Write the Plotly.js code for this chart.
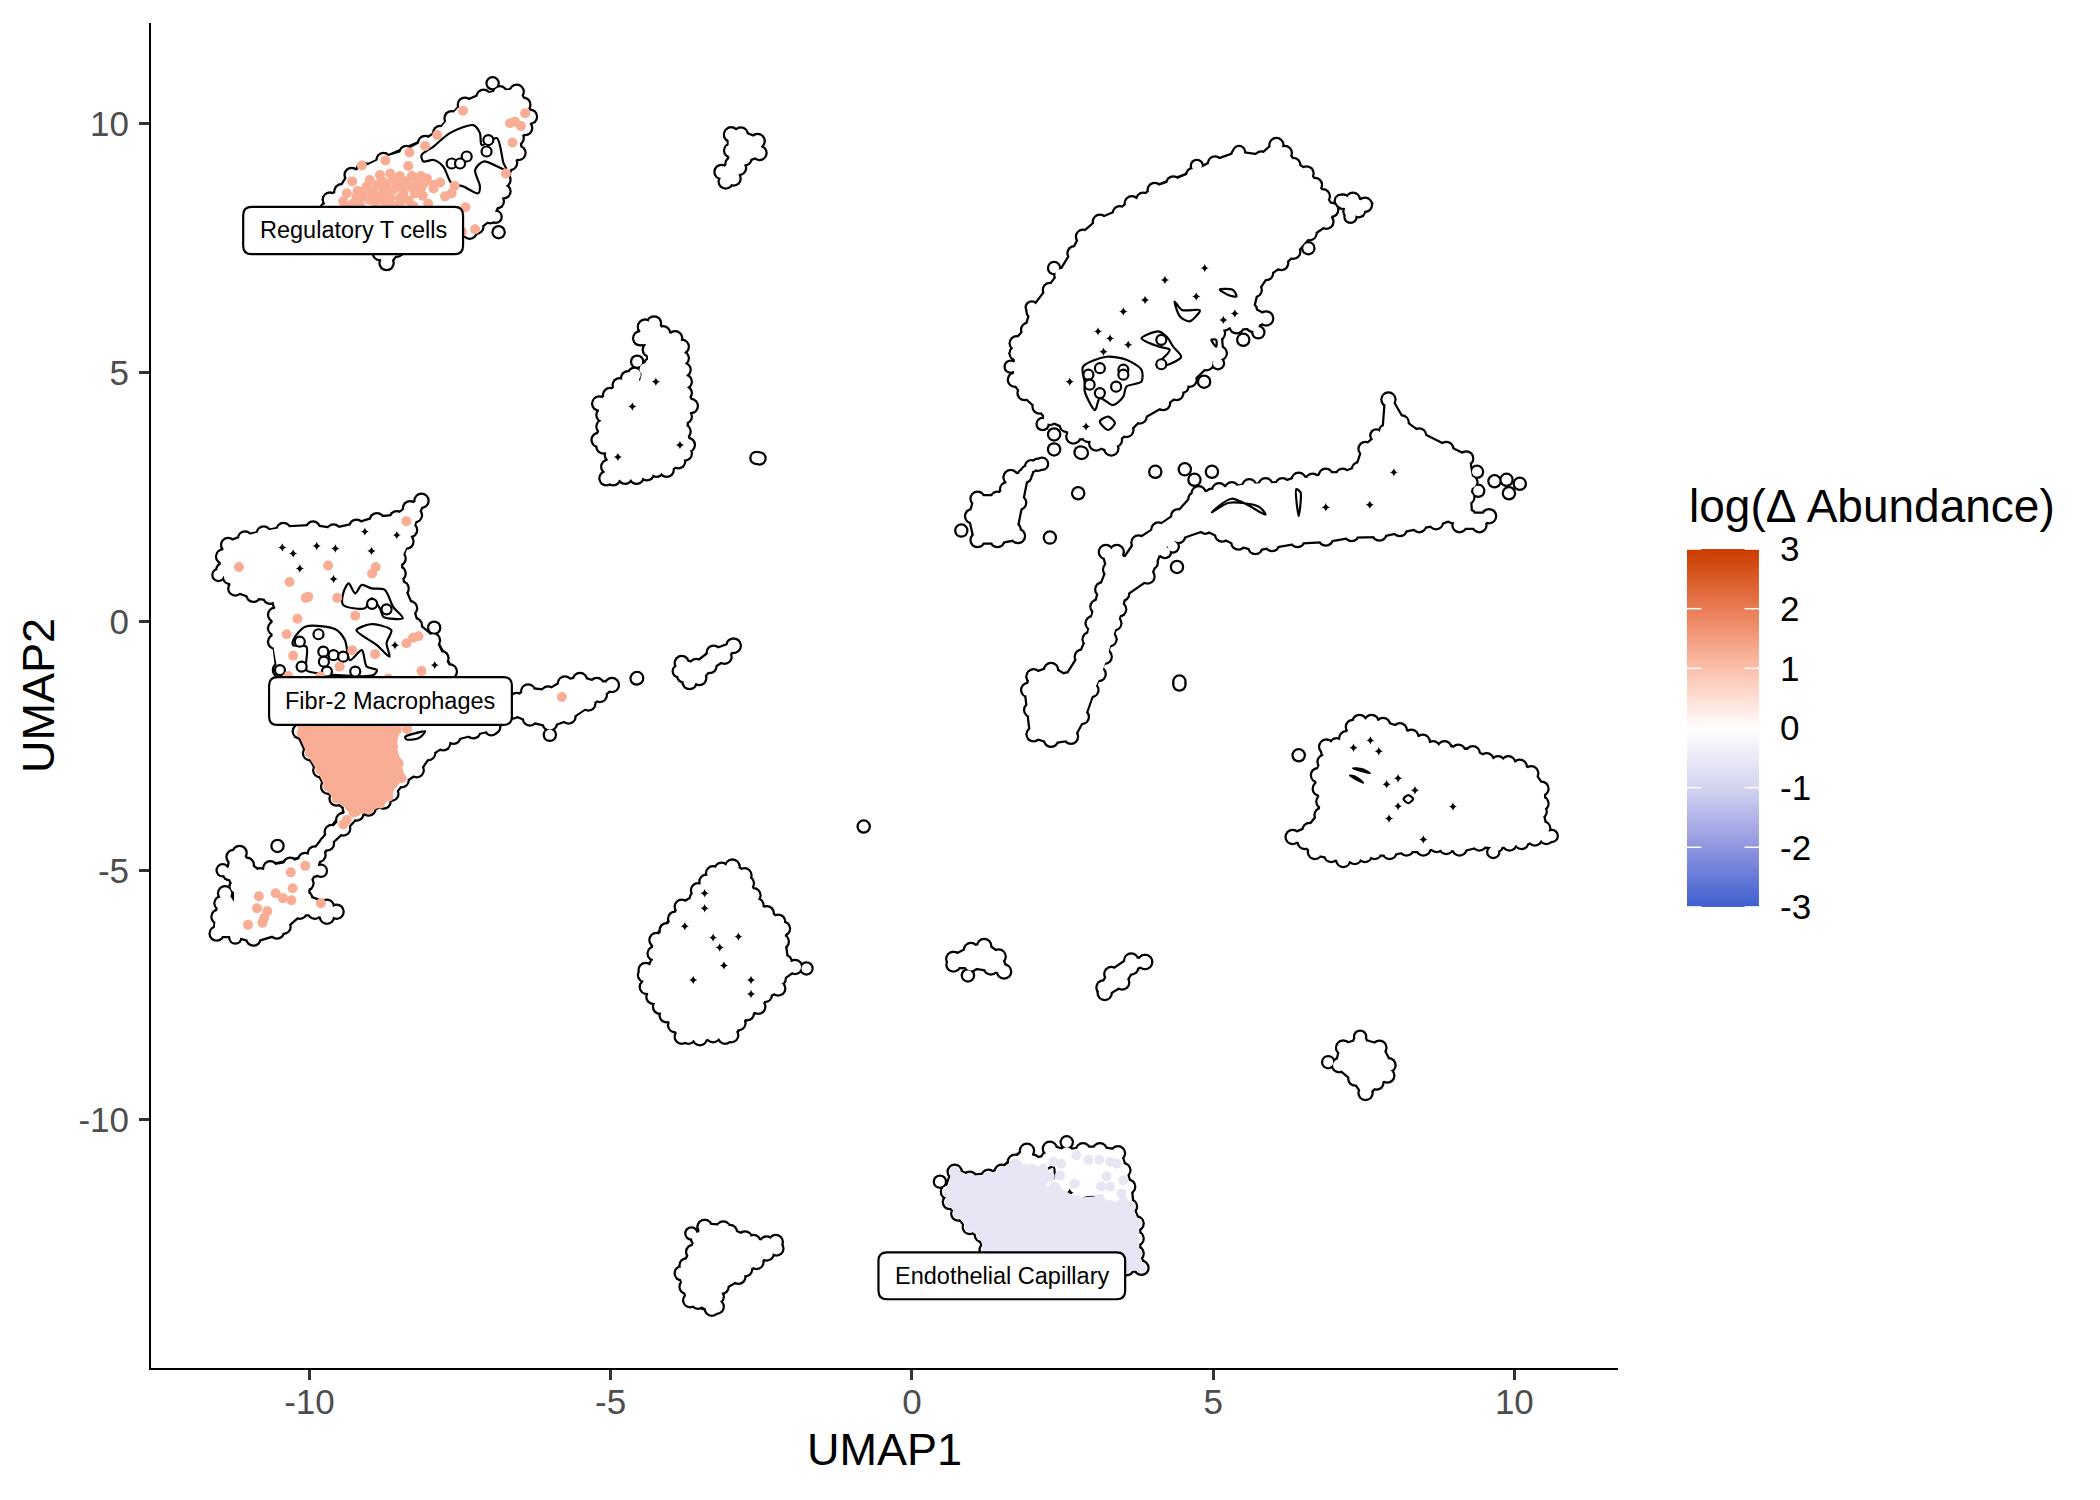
<!DOCTYPE html>
<html>
<head>
<meta charset="utf-8">
<script src="https://cdn.plot.ly/plotly-3.0.1.min.js"></script>
<style>html,body{margin:0;background:#fff}</style>
</head>
<body>
<div id="plot" style="width:2100px;height:1500px"></div>
<script>
// outlines of the cell clouds, in UMAP units
const tregOutline = [[-9.66,8.47],[-9.47,8.64],[-9.30,8.97],[-9.10,9.07],[-8.77,9.27],[-8.39,9.41],[-8.08,9.61],[-7.83,9.81],[-7.64,10.11],[-7.42,10.38],[-7.11,10.54],[-6.84,10.61],[-6.56,10.64],[-6.45,10.38],[-6.34,10.14],[-6.42,9.91],[-6.56,9.71],[-6.53,9.41],[-6.67,9.21],[-6.78,8.87],[-6.78,8.64],[-6.89,8.44],[-7.0,8.14],[-7.23,7.93],[-7.34,7.83],[-7.67,7.73],[-8.55,7.47],[-8.72,7.2],[-8.83,7.4],[-9.55,7.73],[-9.71,8.27]];
const myeloidOutline = [[-11.43,1.31],[-11.35,1.54],[-11.07,1.67],[-10.76,1.77],[-10.43,1.84],[-9.94,1.87],[-9.60,1.81],[-9.22,1.91],[-8.88,2.04],[-8.55,2.08],[-8.33,2.28],[-8.14,2.43],[-8.25,2.14],[-8.33,1.84],[-8.39,1.61],[-8.52,1.27],[-8.52,0.97],[-8.47,0.67],[-8.33,0.27],[-8.25,-0.07],[-7.95,-0.37],[-7.81,-0.73],[-7.67,-1.0],[-7.64,-1.3],[-6.56,-1.57],[-6.37,-1.40],[-6.04,-1.44],[-5.76,-1.24],[-5.51,-1.17],[-5.23,-1.27],[-4.98,-1.27],[-5.18,-1.47],[-5.37,-1.64],[-5.70,-1.90],[-6.01,-2.04],[-6.34,-1.94],[-6.62,-1.80],[-6.95,-2.11],[-7.28,-2.2],[-7.61,-2.31],[-7.78,-2.44],[-8.03,-2.64],[-8.22,-2.98],[-8.47,-3.18],[-8.64,-3.45],[-8.77,-3.61],[-9.02,-3.75],[-9.22,-3.85],[-9.44,-4.15],[-9.71,-4.45],[-9.85,-4.68],[-9.93,-4.98],[-10.05,-5.25],[-10.07,-5.55],[-9.71,-5.72],[-9.55,-5.82],[-9.71,-5.92],[-9.91,-5.82],[-10.16,-5.82],[-10.43,-6.12],[-10.54,-6.22],[-10.93,-6.36],[-11.23,-6.26],[-11.54,-6.26],[-11.51,-5.92],[-11.46,-5.65],[-11.40,-5.45],[-11.21,-5.79],[-11.21,-5.32],[-11.32,-5.05],[-11.26,-4.72],[-11.16,-4.64],[-11.04,-4.88],[-10.82,-5.09],[-10.65,-4.95],[-10.32,-4.88],[-10.07,-4.78],[-9.91,-4.65],[-9.63,-4.22],[-9.44,-3.98],[-9.33,-3.75],[-9.55,-3.55],[-9.69,-3.31],[-9.82,-2.98],[-9.99,-2.64],[-10.16,-2.2],[-10.2,-1.9],[-10.49,-0.97],[-10.57,-0.4],[-10.57,-0.13],[-10.57,0.14],[-10.49,0.37],[-10.65,0.5],[-10.93,0.54],[-11.23,0.67],[-11.32,0.9],[-11.43,1.04]];
const topBlobOutline = [[-3.0,9.78],[-2.84,9.78],[-2.56,9.65],[-2.53,9.41],[-2.78,9.30],[-2.87,9.11],[-2.96,8.90],[-3.09,8.84],[-3.16,9.03],[-2.98,9.19],[-3.0,9.46]];
const upperMidOutline = [[-4.43,5.92],[-4.28,5.99],[-4.13,5.79],[-3.93,5.69],[-3.82,5.52],[-3.82,5.29],[-3.79,5.06],[-3.77,4.82],[-3.77,4.59],[-3.67,4.33],[-3.77,4.12],[-3.79,3.82],[-3.72,3.55],[-3.77,3.38],[-3.88,3.22],[-4.07,3.05],[-4.24,3.05],[-4.40,2.98],[-4.57,2.91],[-4.76,2.91],[-4.96,2.88],[-5.07,2.88],[-5.04,3.11],[-4.98,3.35],[-5.12,3.52],[-5.20,3.65],[-5.12,3.92],[-5.12,4.15],[-5.19,4.38],[-5.01,4.55],[-4.85,4.75],[-4.71,4.89],[-4.60,4.96],[-4.51,4.65],[-4.42,5.07],[-4.33,5.16],[-4.35,5.46],[-4.33,5.62],[-4.46,5.69],[-4.51,5.69]];
const slimOutline = [[-2.96,-0.48],[-3.11,-0.70],[-3.36,-0.89],[-3.53,-1.13],[-3.69,-1.21],[-3.78,-1.08],[-3.82,-0.83],[-3.58,-0.89],[-3.29,-0.62]];
const lowerMidOutline = [[-2.98,-4.92],[-2.78,-5.09],[-2.74,-5.25],[-2.63,-5.49],[-2.58,-5.69],[-2.41,-5.85],[-2.22,-6.02],[-2.14,-6.16],[-2.16,-6.42],[-2.11,-6.83],[-1.94,-6.93],[-2.21,-7.16],[-2.22,-7.36],[-2.44,-7.49],[-2.55,-7.73],[-2.74,-7.86],[-2.88,-8.06],[-3.0,-8.30],[-3.10,-8.33],[-3.30,-8.30],[-3.52,-8.36],[-3.71,-8.33],[-3.82,-8.33],[-3.93,-8.10],[-4.07,-7.90],[-4.18,-7.73],[-4.29,-7.53],[-4.40,-7.33],[-4.43,-7.09],[-4.42,-6.99],[-4.24,-6.89],[-4.27,-6.66],[-4.24,-6.39],[-4.07,-6.19],[-3.93,-5.96],[-3.82,-5.72],[-3.57,-5.55],[-3.55,-5.39],[-3.41,-5.22],[-3.30,-5.05],[-3.16,-4.98]];
const bottomLeftOutline = [[-3.44,-12.15],[-3.13,-12.18],[-3.02,-12.25],[-2.77,-12.38],[-2.63,-12.45],[-2.41,-12.48],[-2.26,-12.45],[-2.25,-12.58],[-2.41,-12.68],[-2.58,-12.85],[-2.77,-13.0],[-2.88,-13.15],[-3.16,-13.35],[-3.24,-13.55],[-3.24,-13.75],[-3.32,-13.79],[-3.55,-13.65],[-3.68,-13.62],[-3.74,-13.35],[-3.82,-13.08],[-3.74,-12.92],[-3.63,-12.65],[-3.55,-12.38]];
const smallAOutline = [[0.69,-6.77],[0.98,-6.59],[1.2,-6.51],[1.44,-6.72],[1.53,-7.02],[1.31,-6.94],[0.98,-6.88],[0.69,-6.88]];
const smallBOutline = [[3.87,-6.83],[3.64,-6.94],[3.49,-7.24],[3.2,-7.45],[3.18,-7.34],[3.31,-7.07],[3.64,-6.8]];
const smallCOutline = [[7.16,-8.55],[7.44,-8.44],[7.76,-8.55],[7.91,-8.9],[7.89,-9.11],[7.71,-9.25],[7.53,-9.46],[7.36,-9.17],[7.09,-8.9]];
const rightOutline = [[6.88,-2.51],[7.05,-2.48],[7.21,-2.34],[7.32,-2.11],[7.43,-2.01],[7.63,-2.01],[7.82,-2.07],[8.10,-2.18],[8.29,-2.31],[8.48,-2.41],[8.65,-2.54],[8.84,-2.54],[9.07,-2.61],[9.31,-2.64],[9.54,-2.78],[9.73,-2.84],[9.90,-2.84],[10.09,-2.91],[10.28,-3.04],[10.45,-3.35],[10.45,-3.65],[10.42,-3.81],[10.48,-4.15],[10.53,-4.32],[10.34,-4.35],[10.12,-4.42],[9.92,-4.45],[9.70,-4.48],[9.42,-4.45],[9.09,-4.55],[8.87,-4.52],[8.71,-4.48],[8.49,-4.55],[8.21,-4.55],[7.93,-4.62],[7.68,-4.62],[7.52,-4.68],[7.35,-4.72],[7.16,-4.78],[6.96,-4.68],[6.69,-4.62],[6.52,-4.42],[6.32,-4.32],[6.60,-4.18],[6.80,-3.88],[6.83,-3.61],[6.77,-3.35],[6.74,-3.08],[6.85,-2.81],[6.91,-2.61]];
const endothelialOutline = [[0.60,-11.44],[0.71,-11.04],[0.96,-11.18],[1.27,-11.14],[1.49,-11.04],[1.71,-10.84],[1.91,-10.62],[2.01,-10.84],[2.26,-10.78],[2.29,-10.58],[2.57,-10.67],[2.84,-10.61],[3.12,-10.61],[3.42,-10.67],[3.51,-11.01],[3.59,-11.34],[3.62,-11.74],[3.73,-12.08],[3.73,-12.38],[3.73,-12.68],[3.81,-12.97],[3.56,-12.98],[3.23,-13.2],[1.57,-13.0],[1.24,-12.61],[1.16,-12.31],[0.96,-12.15],[0.77,-11.88],[0.63,-11.65]];
const bigOutline = [[1.74,5.39],[1.74,5.59],[1.93,5.86],[2.02,6.23],[2.29,6.66],[2.48,6.96],[2.70,7.40],[2.84,7.73],[3.12,8.03],[3.45,8.2],[3.65,8.40],[3.84,8.47],[4.03,8.67],[4.34,8.8],[4.67,8.97],[5.03,9.2],[5.42,9.37],[5.80,9.30],[6.05,9.57],[6.19,9.41],[6.33,9.17],[6.55,9.0],[6.69,8.77],[6.82,8.54],[6.96,8.27],[6.88,8.03],[6.60,7.8],[6.33,7.43],[6.13,7.2],[5.88,7.0],[5.69,6.66],[5.61,6.26],[5.88,6.09],[5.66,5.96],[5.39,5.93],[5.19,5.99],[5.08,5.79],[5.11,5.39],[4.89,5.19],[4.61,4.86],[4.39,4.59],[4.17,4.39],[3.78,4.12],[3.56,3.85],[3.37,3.65],[3.31,3.48],[3.06,3.58],[2.93,3.75],[2.68,3.72],[2.57,3.95],[2.29,4.09],[2.12,4.32],[1.87,4.59],[1.71,4.86],[1.76,5.12]];
const bigLobeOutline = [[7.16,8.43],[7.32,8.47],[7.52,8.37],[7.41,8.26],[7.28,8.24]];
const longOutline = [[2.02,-1.10],[2.31,-0.97],[2.58,-1.16],[2.82,-0.70],[2.95,-0.35],[3.0,-0.03],[3.08,0.3],[3.16,0.65],[3.29,1.05],[3.22,1.40],[3.40,1.40],[3.53,1.18],[3.76,1.59],[4.09,1.85],[4.42,2.12],[4.76,2.58],[4.98,2.53],[5.1,2.64],[5.31,2.66],[5.6,2.72],[5.87,2.74],[6.15,2.74],[6.42,2.85],[6.65,2.83],[6.87,2.93],[7.15,2.93],[7.42,3.06],[7.53,3.47],[7.87,3.82],[7.91,4.46],[8.13,4.0],[8.42,3.74],[8.87,3.47],[9.2,3.28],[9.27,2.80],[9.22,2.5],[9.24,2.12],[9.58,2.12],[9.42,1.94],[9.09,1.94],[8.98,2.12],[8.7,2.0],[8.42,1.94],[8.1,1.86],[7.76,1.77],[7.3,1.76],[6.87,1.67],[6.4,1.64],[5.98,1.56],[5.7,1.5],[5.42,1.59],[5.15,1.75],[4.87,1.91],[4.42,1.72],[4.09,1.45],[3.91,0.91],[3.49,0.56],[3.44,0.25],[3.36,-0.03],[3.28,-0.35],[3.2,-0.70],[3.1,-1.05],[2.98,-1.37],[2.82,-1.91],[2.64,-2.31],[2.31,-2.37],[2.02,-2.26],[1.98,-1.77],[1.93,-1.37]];
const leftSmallOutline = [[1.64,2.9],[1.87,2.93],[1.78,2.39],[1.69,1.85],[1.76,1.72],[1.42,1.64],[1.09,1.64],[1.0,2.12],[1.09,2.47],[1.42,2.47],[1.58,2.66]];

// gaps inside the clouds, closed loops
const innerLoops = [
  [[-7.94,9.54],[-7.67,9.81],[-7.28,9.97],[-7.17,9.81],[-7.14,9.57],[-6.89,9.71],[-6.78,9.21],[-6.73,9.07],[-7.11,9.24],[-7.25,9.07],[-7.17,8.74],[-7.2,8.6],[-7.45,8.74],[-7.64,8.80],[-7.78,9.14],[-7.94,9.27],[-8.11,9.24],[-8.14,9.37]],
  [[-9.35,0.77],[-9.24,0.57],[-9.13,0.74],[-8.97,0.67],[-8.75,0.64],[-8.61,0.30],[-8.45,0.07],[-8.77,0.10],[-8.83,0.27],[-8.97,0.47],[-9.08,0.27],[-9.44,0.34],[-9.44,0.57]],
  [[-9.22,-0.17],[-8.99,-0.05],[-8.83,-0.07],[-8.64,-0.17],[-8.72,-0.43],[-8.67,-0.70],[-8.88,-0.47]],
  [[-10.27,-0.37],[-10.07,-0.1],[-9.57,-0.15],[-9.41,-0.37],[-9.33,-0.77],[-9.13,-0.57],[-9.05,-0.9],[-8.88,-0.97],[-8.94,-1.07],[-9.88,-1.03],[-10.05,-0.97],[-10.05,-0.5],[-10.27,-0.47]],
  [[-8.41,-2.31],[-8.25,-2.24],[-8.08,-2.2],[-8.19,-2.34],[-8.39,-2.36]],
  [[2.35,-10.94],[2.35,-11.18],[2.12,-11.11]],
  [[2.84,-11.58],[3.06,-11.56],[3.12,-11.76],[2.84,-11.68]],
  [[4.36,6.43],[4.48,6.26],[4.78,6.25],[4.61,6.03],[4.45,6.13]],
  [[3.81,5.69],[4.09,5.83],[4.23,5.72],[4.34,5.52],[4.47,5.32],[4.25,5.16],[4.06,5.16],[4.17,5.29],[4.28,5.46],[4.11,5.52],[3.95,5.59]],
  [[2.84,5.12],[3.23,5.32],[3.56,5.26],[3.81,5.06],[3.81,4.82],[3.56,4.72],[3.51,4.52],[3.34,4.35],[3.12,4.49],[3.04,4.25],[2.87,4.62],[2.87,4.79]],
  [[3.12,4.02],[3.26,4.12],[3.37,3.99],[3.26,3.85]],
  [[4.97,5.66],[5.05,5.52],[5.05,5.66]],
  [[5.11,6.67],[5.33,6.66],[5.39,6.53],[5.25,6.56]],
  [[4.98,2.2],[5.27,2.39],[5.76,2.31],[5.87,2.15],[5.31,2.47]],
  [[6.38,2.66],[6.42,2.12],[6.45,2.6]],
  [[7.32,-2.94],[7.60,-3.04],[7.48,-2.96]],
  [[7.27,-3.09],[7.49,-3.23],[7.36,-3.11]],
  [[8.24,-3.48],[8.32,-3.56],[8.24,-3.64],[8.16,-3.56]]
];
const specks = [[-10.45,1.49],[-10.27,1.37],[-9.88,1.52],[-9.57,1.47],[-10.16,1.07],[-9.60,0.86],[-9.08,1.81],[-8.97,1.42],[-8.55,1.74],[-7.92,-0.87],[-8.58,-0.47],[2.62,4.82],[3.09,5.83],[3.29,5.69],[3.59,5.56],[3.18,5.42],[3.87,6.46],[3.51,6.23],[4.20,6.86],[4.86,7.10],[4.72,6.53],[5.36,6.19],[5.17,6.06],[2.89,3.92],[1.24,-11.26],[1.54,-11.21],[1.88,-11.26],[2.12,-11.11],[2.62,-11.46],[1.67,-11.98],[2.87,-11.91],[3.26,-12.01],[6.87,2.3],[7.6,2.35],[8.0,3.0],[-3.77,-6.11],[-3.30,-6.34],[-3.19,-6.54],[-3.12,-6.90],[-3.63,-7.19],[-3.44,-5.45],[-3.44,-5.75],[-2.88,-6.32],[-2.67,-7.19],[-2.67,-7.47],[-4.25,4.82],[-4.64,4.32],[-4.88,3.31],[-3.85,3.55],[8.07,-3.14],[7.75,-2.60],[7.61,-2.38],[7.33,-2.53],[8.98,-3.71],[8.49,-4.37],[7.92,-3.95],[8.07,-3.70],[7.88,-3.26],[8.35,-3.38]];

// isolated cells that touch nothing
const loneCells = [[-6.86,7.82],[-6.96,10.81],[-6.91,8.13],[-11.51,0.94],[-7.93,-0.12],[-4.57,-1.14],[-6.01,-2.27],[-6.37,-1.44],[-6.98,-2.16],[-10.53,-4.50],[-11.44,-4.99],[-9.81,-5.0],[-11.23,-6.34],[-2.53,3.28],[-2.58,3.29],[-4.56,-1.13],[-3.87,-0.99],[-0.8,-4.11],[-1.75,-6.96],[0.93,-7.10],[6.91,-8.84],[7.44,-8.33],[6.42,-2.68],[10.62,-4.30],[9.65,-4.62],[2.57,-10.45],[0.465,-11.24],[-4.56,5.22],[-3.66,-12.28],[1.64,5.12],[2.36,7.10],[4.73,9.15],[5.43,9.43],[6.58,7.5],[5.75,5.81],[5.5,5.66],[5.08,5.19],[4.85,4.82],[4.49,4.72],[2.17,3.97],[2.36,3.46],[2.80,3.4],[1.99,6.31],[7.12,8.45],[7.28,8.13],[7.71,3.74],[4.53,3.06],[4.69,2.85],[4.98,3.01],[4.69,2.47],[4.04,3.01],[2.76,2.58],[2.36,3.76],[2.82,3.39],[2.09,3.15],[1.91,3.01],[2.29,1.69],[0.82,1.83],[4.4,1.1],[3.98,1.18],[4.33,1.51],[4.2,1.4],[9.38,3.01],[9.4,2.63],[9.67,2.82],[9.91,2.58],[9.87,2.85],[10.09,2.77],[4.44,-1.26],[4.44,-1.2],[1.98,3.12],[2.16,3.17]];
// cells sitting inside a gap
const gapCells = [[-7.39,9.34],[-7.64,9.2],[-7.5,9.2],[-7.06,9.44],[-7.03,9.67],[-8.96,0.36],[-8.72,0.25],[-9.85,-0.25],[-9.77,-0.6],[-9.60,-0.67],[-9.44,-0.70],[-9.76,-0.8],[-9.71,-1.0],[-9.24,-1.0],[-10.13,-0.9],[-10.16,-0.4],[-10.49,-0.97],[3.12,5.09],[2.93,4.96],[2.95,4.76],[3.51,5.06],[3.51,4.96],[3.39,4.72],[3.12,4.59],[4.14,5.66],[4.14,5.17]];

// cells with a raised abundance
const tregRaised = [[-7.45,10.26],[-6.42,10.21],[-6.67,10.01],[-6.59,10.04],[-6.49,9.95],[-6.63,9.62],[-7.88,9.77],[-8.08,9.55],[-8.34,9.42],[-8.74,9.26],[-9.13,9.16],[-8.36,9.15],[-9.29,8.84],[-6.74,9.0],[-7.59,8.75],[-7.41,8.32],[-7.25,7.88],[-7.47,7.83],[-9.05,8.74],[-8.88,8.77],[-8.72,8.80],[-8.55,8.80],[-8.39,8.84],[-8.22,8.84],[-8.05,8.90],[-7.94,8.77],[-7.83,8.82],[-8.83,8.97],[-8.66,9.0],[-9.0,8.87],[-8.77,8.67],[-8.61,8.67],[-8.44,8.6],[-8.25,8.6],[-8.12,8.55],[-7.94,8.70],[-9.11,8.54],[-9.0,8.47],[-8.83,8.54],[-8.66,8.50],[-8.5,8.50],[-9.38,8.6],[-9.22,8.54],[-9.44,8.44],[-9.27,8.40],[-8.66,8.39],[-8.27,8.34],[-8.03,8.39],[-7.75,8.54],[-7.64,8.6],[-9.38,8.34],[-9.16,8.37],[-8.95,8.65],[-8.8,8.85],[-8.6,8.9],[-8.45,8.7],[-8.3,8.72],[-8.15,8.7],[-8.1,8.8],[-8.9,8.4],[-8.75,8.42],[-8.5,8.4],[-8.35,8.45],[-9.1,8.65],[-8.95,8.55],[-8.5,8.95],[-8.3,8.95],[-8.15,8.95],[-8.7,8.6],[-9.2,8.65]];
const myeloidRaised = [[-11.17,1.10],[-8.39,2.02],[-9.69,1.13],[-8.90,1.10],[-8.96,0.97],[-10.33,0.80],[-10.06,0.48],[-10.02,0.50],[-9.54,0.48],[-10.2,0.06],[-9.24,0.12],[-10.38,-0.25],[-9.29,-0.57],[-8.91,-0.65],[-10.27,-0.68],[-9.50,-0.90],[-8.39,-0.43],[-8.28,-0.32],[-8.19,-0.29],[-8.14,-0.99],[-5.81,-1.51],[-10.35,-1.09],[-9.82,-1.10],[-8.69,-1.14],[-8.55,-2.09],[-8.38,-2.15],[-9.27,-3.83],[-9.38,-3.98],[-9.44,-4.07],[-10.31,-5.03],[-10.07,-4.90],[-10.28,-5.35],[-10.56,-5.45],[-10.44,-5.55],[-10.30,-5.59],[-10.84,-5.51],[-10.87,-5.75],[-10.70,-5.81],[-10.75,-5.94],[-10.78,-6.04],[-11.02,-6.08],[-9.81,-5.65]];
const macrophageArea = [[-10.21,-1.64],[-8.61,-1.64],[-8.55,-2.17],[-8.61,-2.51],[-8.52,-2.84],[-8.47,-3.14],[-8.61,-3.25],[-8.69,-3.51],[-8.83,-3.65],[-9.02,-3.77],[-9.22,-3.81],[-9.33,-3.71],[-9.55,-3.55],[-9.69,-3.31],[-9.82,-2.98],[-9.99,-2.64],[-10.13,-2.24]];
// cells with a lowered abundance
const capillaryArea = [[0.60,-11.44],[0.71,-11.04],[0.96,-11.18],[1.27,-11.14],[1.49,-11.04],[1.71,-10.88],[1.99,-10.98],[2.18,-10.98],[2.29,-11.14],[2.12,-11.38],[2.40,-11.38],[2.73,-11.61],[3.12,-11.58],[3.29,-11.71],[3.51,-11.65],[3.62,-11.74],[3.73,-12.08],[3.73,-12.68],[3.81,-12.97],[3.56,-12.98],[3.23,-13.2],[1.57,-13.0],[1.24,-12.61],[1.16,-12.31],[0.96,-12.15],[0.77,-11.88],[0.63,-11.65]];
const capillaryLowered = [[2.73,-10.71],[2.93,-10.80],[3.11,-10.80],[3.29,-10.84],[3.40,-10.88],[2.48,-10.88],[2.46,-11.11],[2.70,-11.28],[3.23,-11.13],[3.51,-11.21],[3.14,-11.33],[3.29,-11.34],[3.48,-11.48],[2.35,-10.84],[1.76,-10.91],[1.93,-11.01],[2.37,-11.34]];

const labelTexts = ["Regulatory T cells", "Fibr-2 Macrophages", "Endothelial Capillary"];
const labelLeft = [-11.10, -10.67, -0.555];
const labelRight = [-7.45, -6.64, 3.54];
const labelTop = [8.33, -1.11, -12.66];
const labelBottom = [7.38, -2.07, -13.60];

const legendLevels = [-3, -2, -1, 0, 1, 2, 3];
const tickValues = [-10, -5, 0, 5, 10];

const abundanceColors = [[0, "#3F5FD0"], [1/6, "#8F95DF"], [2/6, "#D3D3F0"], [0.5, "#FFFFFF"], [4/6, "#FCC0AB"], [5/6, "#E97D55"], [1, "#CC3D00"]];
const SALMON = "#F9AD94";
const LAVENDER = "#E6E6F5";
const FONT = "Liberation Sans, Arial, sans-serif";

function closed(polys) {
  const x = [], y = [];
  polys.forEach(p => {
    p.forEach(c => { x.push(c[0]); y.push(c[1]); });
    x.push(p[0][0], null);
    y.push(p[0][1], null);
  });
  return { x, y };
}
const xs = pts => pts.map(p => p[0]);
const ys = pts => pts.map(p => p[1]);

const outlines = closed([tregOutline, myeloidOutline, topBlobOutline, upperMidOutline, slimOutline, lowerMidOutline, bottomLeftOutline, smallAOutline, smallBOutline, smallCOutline, rightOutline, endothelialOutline, bigOutline, bigLobeOutline, longOutline, leftSmallOutline]);
const loops = closed(innerLoops);
const wedge = closed([macrophageArea]);
const capillary = closed([capillaryArea]);
const raised = tregRaised.concat(myeloidRaised);

const traces = [
  // black first, white on top, so only a rim of the black stays visible
  { x: outlines.x, y: outlines.y, mode: "lines+markers", line: { color: "#000", width: 9.5 }, marker: { color: "#000", size: 16.5 } },
  { x: xs(loneCells), y: ys(loneCells), mode: "markers", marker: { color: "#000", size: 14.5 } },
  { x: outlines.x, y: outlines.y, mode: "lines+markers", fill: "toself", fillcolor: "#fff", line: { color: "#fff", width: 5 }, marker: { color: "#fff", size: 12 } },
  { x: xs(loneCells), y: ys(loneCells), mode: "markers", marker: { color: "#fff", size: 10 } },
  { x: loops.x, y: loops.y, mode: "lines", line: { color: "#000", width: 2.2, shape: "spline", smoothing: 0.8 } },
  { x: xs(specks), y: ys(specks), mode: "markers", marker: { color: "#000", size: 6, symbol: "star-diamond" } },
  { x: xs(gapCells), y: ys(gapCells), mode: "markers", marker: { color: "#fff", size: 10, line: { color: "#000", width: 2.2 } } },
  { x: capillary.x, y: capillary.y, mode: "lines+markers", fill: "toself", fillcolor: LAVENDER, line: { color: LAVENDER, width: 5 }, marker: { color: LAVENDER, size: 10 } },
  { x: xs(capillaryLowered), y: ys(capillaryLowered), mode: "markers", marker: { color: LAVENDER, size: 10 } },
  { x: wedge.x, y: wedge.y, mode: "lines+markers", fill: "toself", fillcolor: SALMON, line: { color: SALMON, width: 6 }, marker: { color: SALMON, size: 10 } },
  { x: xs(raised), y: ys(raised), mode: "markers", marker: { color: SALMON, size: 10 } },
  // colour key
  { type: "heatmap", xaxis: "x2", yaxis: "y2", x: [0, 1], y: legendLevels, z: legendLevels.map(v => [v, v]), zmin: -3, zmax: 3, zsmooth: "best", colorscale: abundanceColors, showscale: false, hoverinfo: "skip" }
];

function roundedBox(x0, x1, y0, y1) {
  const rx = 0.14, ry = 0.17;
  return `M${x0 + rx},${y0} L${x1 - rx},${y0} Q${x1},${y0} ${x1},${y0 - ry} L${x1},${y1 + ry} Q${x1},${y1} ${x1 - rx},${y1} L${x0 + rx},${y1} Q${x0},${y1} ${x0},${y1 + ry} L${x0},${y0 - ry} Q${x0},${y0} ${x0 + rx},${y0} Z`;
}

const shapes = labelTexts.map((t, i) => ({
  type: "path", layer: "above", xref: "x", yref: "y",
  path: roundedBox(labelLeft[i], labelRight[i], labelTop[i], labelBottom[i]),
  fillcolor: "#fff", line: { color: "#000", width: 2.2 }
}));
legendLevels.forEach(v => {
  [[0, 0.2], [0.8, 1]].forEach(r => shapes.push({
    type: "line", layer: "above", xref: "x2", yref: "y2", x0: r[0], x1: r[1], y0: v, y1: v,
    line: { color: "#fff", width: 1.5 }
  }));
});

const annotations = labelTexts.map((t, i) => ({
  text: t, xref: "x", yref: "y", showarrow: false,
  x: (labelLeft[i] + labelRight[i]) / 2, y: (labelTop[i] + labelBottom[i]) / 2,
  font: { family: FONT, size: 23.5, color: "#000" }
}));
annotations.push({
  text: "log(Δ Abundance)", xref: "paper", yref: "paper", xanchor: "left", yanchor: "middle",
  x: 0.9552, y: 0.6409, showarrow: false, font: { family: FONT, size: 46, color: "#000" }
});

const axisBase = {
  showgrid: false, zeroline: false, showline: true, linecolor: "#000", linewidth: 2,
  ticks: "outside", ticklen: 10, tickwidth: 3, tickcolor: "#333333",
  tickvals: tickValues, ticktext: tickValues.map(String),
  tickfont: { family: FONT, size: 35, color: "#4D4D4D" }
};

const layout = {
  width: 2100, height: 1500,
  margin: { l: 151, r: 341, t: 23, b: 132 },
  paper_bgcolor: "#fff", plot_bgcolor: "#fff",
  showlegend: false,
  font: { family: FONT },
  xaxis: Object.assign({}, axisBase, {
    domain: [0, 0.9123], range: [-12.63, 11.72], fixedrange: true, ticklabelstandoff: -8,
    title: { text: "UMAP1", font: { family: FONT, size: 45, color: "#000" }, standoff: 13 }
  }),
  yaxis: Object.assign({}, axisBase, {
    range: [-14.98, 12.02], fixedrange: true, ticklabelstandoff: 3,
    title: { text: "UMAP2", font: { family: FONT, size: 45, color: "#000" }, standoff: 10 }
  }),
  xaxis2: { domain: [0.9552, 1], range: [0, 1], anchor: "y2", visible: false, fixedrange: true },
  yaxis2: {
    domain: [0.3428, 0.6089], range: [-3, 3], anchor: "x2", side: "right", fixedrange: true,
    showgrid: false, zeroline: false, showline: false, ticks: "", tickvals: legendLevels,
    ticktext: legendLevels.map(String),
    ticklabelstandoff: 20, tickfont: { family: FONT, size: 35, color: "#000" }
  },
  shapes, annotations
};

Plotly.newPlot("plot", traces, layout, { displayModeBar: false, responsive: false });
</script>
</body>
</html>
